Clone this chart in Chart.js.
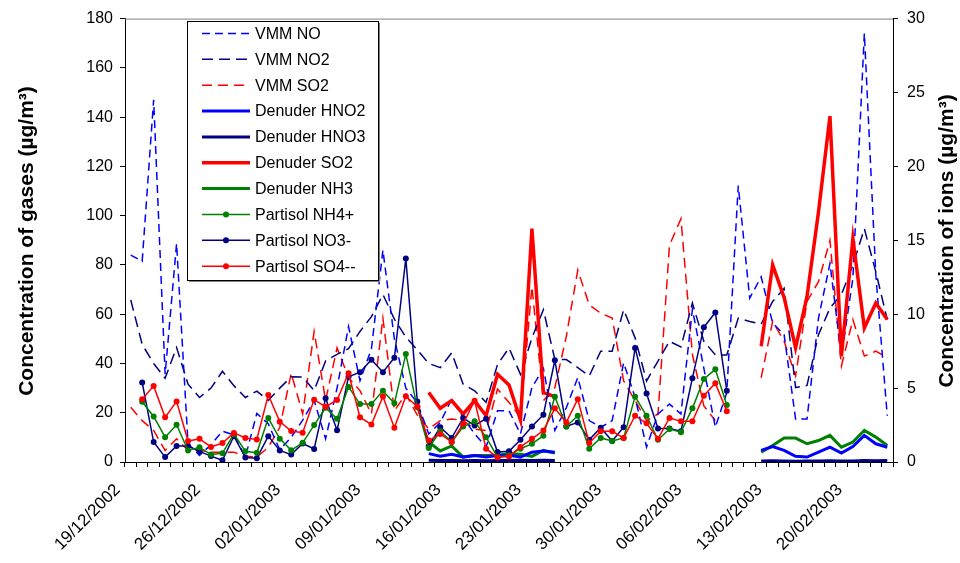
<!DOCTYPE html>
<html>
<head>
<meta charset="utf-8">
<title>Gases and ions</title>
<script src="https://cdn.jsdelivr.net/npm/chart.js@4.4.1/dist/chart.umd.min.js"></script>
<style>
    body { margin: 0; background: #fff; }
    #wrap { width: 960px; height: 563px; }
</style>
</head>
<body>
<div id="wrap"><canvas id="chart" width="960" height="563"></canvas></div>
<script>
const _ = null;

// one category per day, 19/12/2002 .. 23/02/2003
const days = [
    '19/12/2002','20/12/2002','21/12/2002','22/12/2002','23/12/2002','24/12/2002','25/12/2002',
    '26/12/2002','27/12/2002','28/12/2002','29/12/2002','30/12/2002','31/12/2002','01/01/2003',
    '02/01/2003','03/01/2003','04/01/2003','05/01/2003','06/01/2003','07/01/2003','08/01/2003',
    '09/01/2003','10/01/2003','11/01/2003','12/01/2003','13/01/2003','14/01/2003','15/01/2003',
    '16/01/2003','17/01/2003','18/01/2003','19/01/2003','20/01/2003','21/01/2003','22/01/2003',
    '23/01/2003','24/01/2003','25/01/2003','26/01/2003','27/01/2003','28/01/2003','29/01/2003',
    '30/01/2003','31/01/2003','01/02/2003','02/02/2003','03/02/2003','04/02/2003','05/02/2003',
    '06/02/2003','07/02/2003','08/02/2003','09/02/2003','10/02/2003','11/02/2003','12/02/2003',
    '13/02/2003','14/02/2003','15/02/2003','16/02/2003','17/02/2003','18/02/2003','19/02/2003',
    '20/02/2003','21/02/2003','22/02/2003','23/02/2003'
];

// gases, µg/m³ (left axis)
const vmmNO = [84, 81.5, 147, 35.6, 88.7, 7.4, 2.7, 7, 12.5, 11,
    2, 19.7, 15.5, 5, 10, 17, 25, 9.4, 30, 55,
    33, 46, 86, 50, 30, 24, 11.4, 16, 25.5, 18,
    11.4, 6.1, 20.8, 20.8, 11.4, 30.2, 38, 12.8, 22, 34.3,
    16.8, 14.1, 16.8, 40.3, 26.2, 6.1, 19.5, 23.5, 19.5, 62,
    38, 14.1, 28.2, 112.2, 66.5, 75.2, 56.4, 51.7, 17.5, 17.5,
    58.4, 80.6, 43, 74.5, 174, 75.9, 18.8];
const vmmNO2 = [65.8, 47.7, 40, 34, 46.5, 31.6, 26.2, 30, 36.8, 31,
    26.2, 28.8, 25, 30, 34.6, 34.5, 29, 41, 43.7, 46,
    53, 59, 68, 58, 50.7, 45.5, 40, 38.3, 44.3, 31.6,
    28.9, 24.2, 39.6, 46.3, 35.6, 50.4, 61.8, 41.6, 41.6, 38.3,
    34.9, 45, 45, 61.8, 50.4, 32.9, 41, 49, 46.7, 64.5,
    49, 43.5, 43.4, 58.4, 57, 56, 65.2, 70.5, 30.2, 31.1,
    51.7, 62.5, 68, 80, 94.7, 77.2, 57.8];
const vmmSO2 = [22.2, 16.8, 12.8, 4.7, 9.4, 4.7, 4.7, 4, 4, 4,
    2.3, 2, 6, 14, 36, 19.5, 53, 25, 46.3, 34.3,
    29, 19.5, 58.4, 20.8, 27.5, 19, 13.4, 16.8, 17.5, 16.8,
    13.4, 12.8, 29.6, 24.2, 18.1, 71.2, 24.9, 30.2, 51, 77.9,
    63.8, 60.4, 58.4, 32.9, 24.9, 16.8, 19.5, 88, 98.7, 43.7,
    22.8, 16.8, _, _, _, 34.2, 57.1, 49, 34.9, 65.2,
    73.2, 90, 39, 57.8, 43, 45, 42.3];

const denHNO2 = [_, _, _, _, _, _, _, _, _, _, _, _, _, _, _, _, _, _, _, _, _, _, _, _, _, _,
    3.4, 2.3, 3.1, 2.0, 2.6, 2.0, 2.6, 2.7, 2.0, 4.0, 4.5, 4.0,
    _, _, _, _, _, _, _, _, _, _, _, _, _, _, _, _, _,
    4.7, 6.3, 4.7, 2.3, 2.0, 4.0, 6.0, 3.6, 6.3, 10.8, 7.4, 6.0];
const denHNO3 = [_, _, _, _, _, _, _, _, _, _, _, _, _, _, _, _, _, _, _, _, _, _, _, _, _, _,
    0.7, 0.6, 0.6, 0.5, 0.6, 0.5, 0.6, 0.6, 0.7, 0.6, 0.7, 0.6,
    _, _, _, _, _, _, _, _, _, _, _, _, _, _, _, _, _,
    0.4, 0.5, 0.4, 0.3, 0.4, 0.4, 0.5, 0.4, 0.4, 0.6, 0.5, 0.6];
const denSO2 = [_, _, _, _, _, _, _, _, _, _, _, _, _, _, _, _, _, _, _, _, _, _, _, _, _, _,
    28.2, 21.8, 24.9, 19.5, 24.9, 18.8, 35.6, 31.3, 17.1, 94.7, 28.2, 26.5,
    _, _, _, _, _, _, _, _, _, _, _, _, _, _, _, _, _,
    47, 80, 66.8, 46.4, 67.2, 101.5, 140.4, 43, 90.7, 54.4, 64.5, 57.8];
const denNH3 = [_, _, _, _, _, _, _, _, _, _, _, _, _, _, _, _, _, _, _, _, _, _, _, _, _, _,
    8.1, 4.5, 6.5, 2.0, 2.6, 2.6, 2.6, 3.4, 3.1, 2.3, 4.7, 3.6,
    _, _, _, _, _, _, _, _, _, _, _, _, _, _, _, _, _,
    4.0, 6.7, 9.7, 9.7, 7.4, 8.7, 10.8, 6.0, 8.1, 12.8, 10.1, 6.7];

// ions, µg/m³ (right axis)
const partNH4 = [_, 4.08, 3.08, 1.68, 2.52, 0.78, 1.00, 0.50, 0.60, 1.90, 0.73,
    0.62, 2.97, 1.58, 0.80, 1.30, 2.50, 3.67, 2.92, 5.08, 3.92,
    3.92, 4.82, 3.97, 7.30, 3.70, 0.95, 2.08, 1.35, 2.40, 2.75,
    1.68, 0.33, 0.45, 0.90, 1.23, 1.78, 4.42, 2.40, 3.13, 0.90,
    1.63, 1.42, 1.63, 4.42, 3.13, 1.50, 2.23, 2.02, 3.63, 5.62,
    6.27, 3.85, _, _, _, _, _, _, _, _, _, _, _, _, _, _];
const partNO3 = [_, 5.38, 1.35, 0.33, 1.08, 1.08, 0.72, 0.40, 0.12, 1.75, 0.30,
    0.25, 1.75, 0.78, 0.50, 1.25, 0.88, 4.32, 2.15, 5.77, 6.08,
    6.92, 6.08, 7.05, 13.77, 4.10, 1.07, 2.35, 1.63, 2.98, 2.47,
    2.93, 0.67, 0.72, 1.50, 2.40, 3.20, 6.88, 2.40, 2.68, 1.50,
    2.32, 1.42, 2.35, 7.72, 4.63, 2.27, 2.27, 2.08, 5.67, 9.12,
    10.12, 4.82, _, _, _, _, _, _, _, _, _, _, _, _, _, _];
const partSO4 = [_, 4.25, 5.15, 3.02, 4.10, 1.42, 1.57, 1.02, 1.28, 1.97, 1.63,
    1.53, 4.53, 2.73, 2.10, 1.98, 4.22, 3.73, 4.20, 6.00, 3.03,
    2.53, 4.43, 2.32, 4.45, 3.75, 1.45, 1.90, 1.35, 2.58, 4.15,
    0.90, 0.30, 0.38, 1.02, 1.57, 2.13, 3.63, 2.68, 4.25, 1.28,
    2.08, 2.08, 1.63, 3.13, 2.62, 1.57, 2.98, 2.75, 2.75, 4.48,
    5.33, 3.43, _, _, _, _, _, _, _, _, _, _, _, _, _, _];

const gasTicks = { min: 0, max: 180, step: 20 };
const ionTicks = { min: 0, max: 30, step: 5 };

const FONT = '"Liberation Sans", Arial, sans-serif';
const BLUE = '#0000ff', NAVY = '#000080', RED = '#ff0000', GREEN = '#008000';

function dashed(label, data, color, dash) {
    return { label, data, yAxisID: 'y', borderColor: color, backgroundColor: color,
        borderWidth: 1.5, borderDash: dash, pointRadius: 0, tension: 0, order: 3 };
}
function denuder(label, data, color, w) {
    return { label, data, yAxisID: 'y', borderColor: color, backgroundColor: color,
        borderWidth: w, pointRadius: 0, tension: 0, order: 2 };
}
function partisol(label, data, color, ord) {
    return { label, data, yAxisID: 'y2', borderColor: color, backgroundColor: color,
        borderWidth: 1.5, pointRadius: 3, pointBorderWidth: 0, pointBackgroundColor: color,
        tension: 0, order: ord };
}

// axis titles, top frame line and the boxed legend
const decor = {
    id: 'decor',
    afterDraw(chart) {
        const ctx = chart.ctx, a = chart.chartArea;
        ctx.save();
        ctx.strokeStyle = '#808080';
        ctx.lineWidth = 1;
        ctx.beginPath();
        ctx.moveTo(a.left, a.top + 0.5);
        ctx.lineTo(a.right, a.top + 0.5);
        ctx.stroke();

        ctx.fillStyle = '#000';
        ctx.font = 'bold 21px ' + FONT;
        ctx.textAlign = 'center';
        ctx.textBaseline = 'middle';
        [[27, 'Concentration of gases (µg/m³)'], [947, 'Concentration of ions (µg/m³)']].forEach(([x, t]) => {
            ctx.save();
            ctx.translate(x, 241);
            ctx.rotate(-Math.PI / 2);
            ctx.fillText(t, 0, 0);
            ctx.restore();
        });

        // legend box
        const bx = 187, by = 21, bw = 191, bh = 259;
        ctx.fillStyle = '#808080';
        ctx.fillRect(bx + 2, by + 2, bw, bh);
        ctx.fillStyle = '#fff';
        ctx.fillRect(bx, by, bw, bh);
        ctx.strokeStyle = '#000';
        ctx.strokeRect(bx + 0.5, by + 0.5, bw, bh);

        ctx.font = '16px ' + FONT;
        ctx.textAlign = 'left';
        chart.data.datasets.forEach((ds, i) => {
            const y = 33.5 + i * 25.85;
            ctx.strokeStyle = ds.borderColor;
            ctx.lineWidth = ds.borderWidth;
            ctx.setLineDash(ds.borderDash || []);
            ctx.beginPath();
            ctx.moveTo(202, y);
            ctx.lineTo(250, y);
            ctx.stroke();
            ctx.setLineDash([]);
            if (ds.pointRadius) {
                ctx.fillStyle = ds.borderColor;
                ctx.beginPath();
                ctx.arc(226, y, ds.pointRadius, 0, Math.PI * 2);
                ctx.fill();
            }
            ctx.fillStyle = '#000';
            ctx.fillText(ds.label, 255, y + 1);
        });
        ctx.restore();
    }
};

const axisGrid = { drawOnChartArea: false, color: '#000', tickLength: 5 };
const tickFont = { size: 16, family: FONT };

new Chart(document.getElementById('chart'), {
    type: 'line',
    data: {
        labels: days,
        datasets: [
            dashed('VMM NO', vmmNO, BLUE, [8, 5]),
            dashed('VMM NO2', vmmNO2, NAVY, [11, 6]),
            dashed('VMM SO2', vmmSO2, RED, [10, 6]),
            denuder('Denuder HNO2', denHNO2, BLUE, 3),
            denuder('Denuder HNO3', denHNO3, NAVY, 3),
            denuder('Denuder SO2', denSO2, RED, 3.5),
            denuder('Denuder NH3', denNH3, GREEN, 3),
            partisol('Partisol NH4+', partNH4, GREEN, 1),
            partisol('Partisol NO3-', partNO3, NAVY, 1),
            partisol('Partisol SO4--', partSO4, RED, 0)
        ]
    },
    options: {
        responsive: false,
        animation: false,
        layout: { padding: { top: 15 } },
        plugins: { legend: { display: false }, tooltip: { enabled: false } },
        scales: {
            x: {
                offset: true,
                grid: Object.assign({ offset: true }, axisGrid),
                border: { color: '#000' },
                ticks: {
                    autoSkip: false, minRotation: 45, maxRotation: 45,
                    color: '#000', font: { size: 17, family: FONT }, padding: 13, labelOffset: -13,
                    callback: (v, i) => (i % 7 === 0 ? days[i] : '')
                },
                afterFit: s => { s.height = 101; }
            },
            y: {
                position: 'left', min: gasTicks.min, max: gasTicks.max,
                grid: axisGrid, border: { color: '#000' },
                ticks: { stepSize: gasTicks.step, color: '#000', font: tickFont, padding: 7 },
                afterFit: s => { s.width = 125; }
            },
            y2: {
                position: 'right', min: ionTicks.min, max: ionTicks.max,
                grid: axisGrid, border: { color: '#000' },
                ticks: { stepSize: ionTicks.step, color: '#000', font: tickFont, padding: 9 },
                afterFit: s => { s.width = 67; }
            }
        }
    },
    plugins: [decor]
});
</script>
</body>
</html>
